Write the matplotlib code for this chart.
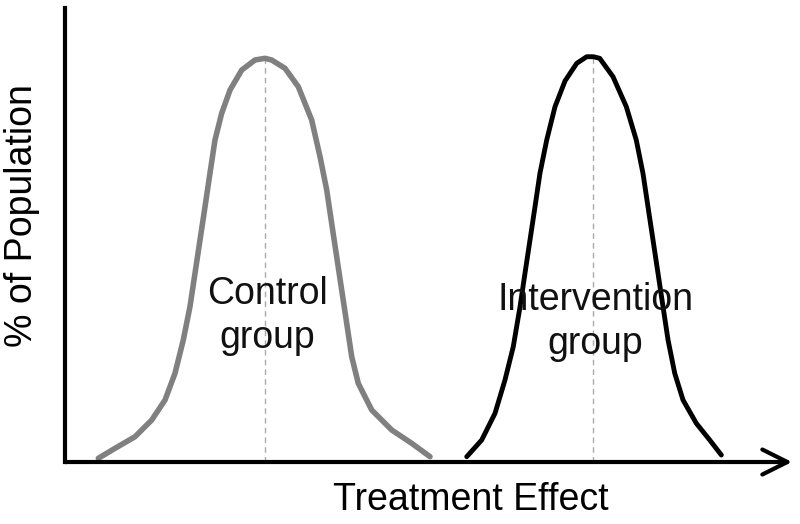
import numpy as np
import matplotlib
matplotlib.use("Agg")
import matplotlib.pyplot as plt

plt.rcParams['font.family'] = ['Liberation Sans', 'DejaVu Sans']

# curve points (x: treatment effect, y: % of population, both 0-100)
control_x = [4.58, 6.88, 9.63, 11.93, 13.76, 15.13, 16.27, 17.19, 17.88, 18.57, 19.26,
             19.94, 20.63, 21.55, 22.70, 24.31, 26.13, 27.51, 28.43, 30.26, 32.09, 33.93,
             35.08, 36.00, 36.68, 37.37, 38.06, 38.75, 39.44, 40.34, 42.19, 44.94, 47.69,
             50.21]
control_y = [0.81, 3.02, 5.57, 9.25, 13.66, 19.54, 26.87, 34.21, 41.56, 48.90, 56.23,
             63.59, 70.92, 76.80, 81.94, 86.34, 88.55, 88.92, 88.55, 86.72, 82.67, 75.34,
             67.25, 59.91, 52.58, 45.22, 37.89, 30.55, 23.19, 17.33, 11.45, 7.05, 4.12,
             1.17]

interv_x = [55.26, 57.32, 59.15, 60.52, 61.66, 62.59, 63.27, 63.96, 64.65, 65.33, 66.26,
            67.40, 68.78, 70.39, 71.76, 72.67, 73.55, 75.38, 77.21, 78.58, 79.50, 80.19,
            80.88, 81.57, 82.26, 82.95, 83.87, 85.01, 86.84, 88.68, 90.28]
interv_y = [1.17, 4.85, 10.73, 18.06, 25.40, 34.21, 41.56, 48.90, 56.23, 63.59, 70.92,
            78.26, 83.94, 87.82, 89.27, 89.27, 88.92, 84.87, 78.26, 70.92, 63.59, 56.23,
            48.90, 41.56, 34.21, 26.87, 19.54, 13.66, 8.52, 4.85, 1.54]

# peak positions (dashed lines)
peak_x = [27.5, 72.6]
peak_y = [88.8, 89.2]

labels = ["Control\ngroup", "Intervention\ngroup"]
label_x = [27.8, 73.0]
label_y = [32.2, 30.8]

fig = plt.figure(figsize=(8, 5.24), dpi=100)
ax = fig.add_axes([0.08125, 0.1183, 0.90875, 0.8664])
ax.set_xlim(0, 100)
ax.set_ylim(0, 100)

# dashed peak lines
for px, py in zip(peak_x, peak_y):
    ax.plot([px, px], [0, py], color="#aaaaaa", lw=1.0, ls=(0, (4, 3)), zorder=1)

# curves
ax.plot(control_x, control_y, color="#808080", lw=4.0, solid_joinstyle="round",
        solid_capstyle="round", zorder=3)
ax.plot(interv_x, interv_y, color="black", lw=3.5, solid_joinstyle="round",
        solid_capstyle="round", zorder=3)

# group labels
for t, x, y in zip(labels, label_x, label_y):
    ax.text(x, y, t, ha="center", va="center", fontsize=27, color="#111111",
            linespacing=1.27, zorder=4)

# axes: left line, bottom arrow
for s in ["top", "right", "bottom"]:
    ax.spines[s].set_visible(False)
ax.spines["left"].set_linewidth(3)
ax.spines["left"].set_capstyle("projecting")
ax.set_xticks([])
ax.set_yticks([])
ax.annotate("", xy=(100, 0), xytext=(0, 0),
            arrowprops=dict(arrowstyle="->,head_length=0.9,head_width=0.45",
                            lw=3, color="black", shrinkA=0, shrinkB=0,
                            mutation_scale=20),
            annotation_clip=False, zorder=5)

fig.text(471 / 800, 1 - 500 / 524, "Treatment Effect", fontsize=27,
         ha="center", va="center")
fig.text(22 / 800, 1 - 216 / 524, "% of Population", fontsize=27,
         ha="center", va="center", rotation=90)

plt.savefig("out.png", dpi=100)
plt.close()
